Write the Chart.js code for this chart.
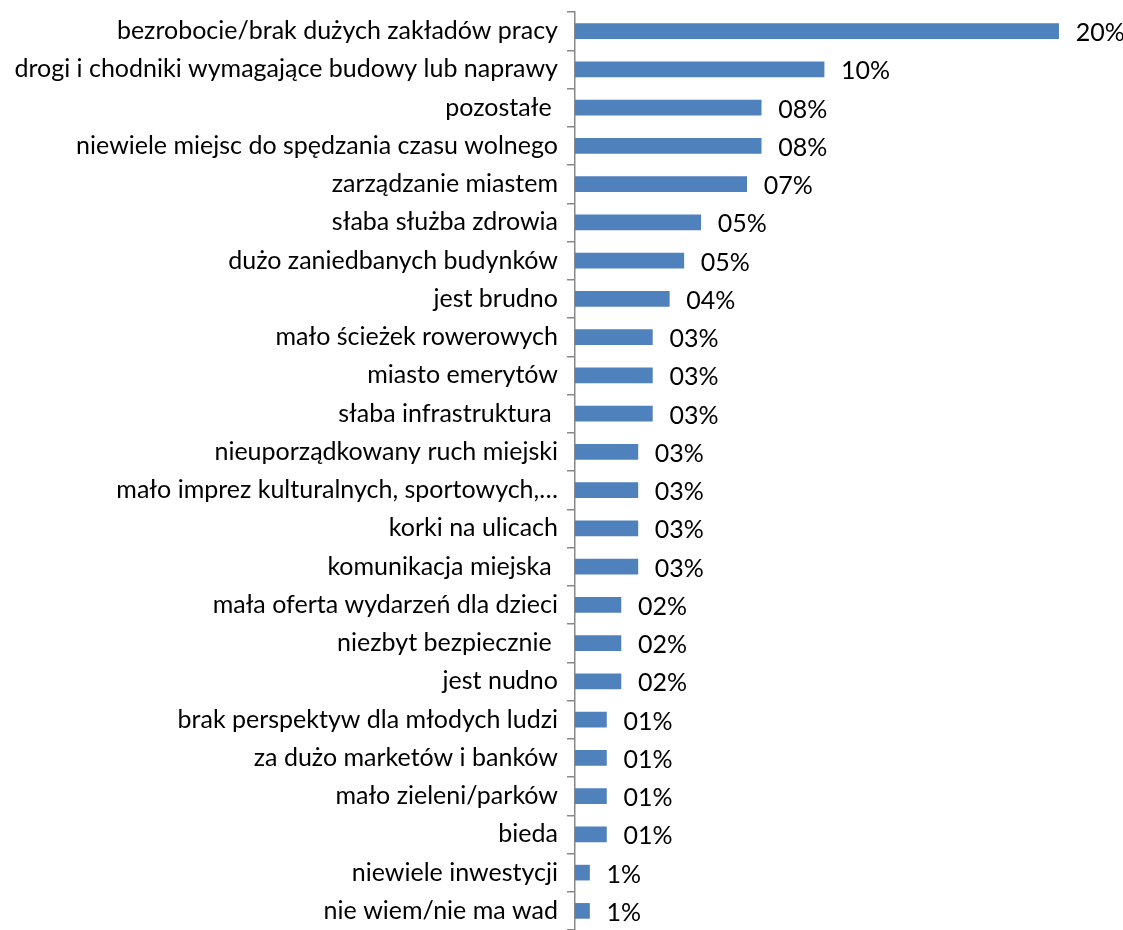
<!DOCTYPE html>
<html>
<head>
<meta charset="utf-8">
<script src="https://cdn.jsdelivr.net/npm/chart.js@4/dist/chart.umd.min.js"></script>
<style>
  html, body { margin: 0; padding: 0; background: #fff; }
  #wrap { width: 1123px; height: 930px; }
</style>
</head>
<body>
<div id="wrap"><canvas id="chart" width="1123" height="930"></canvas></div>
<script>
const categories = [
  'bezrobocie/brak dużych zakładów pracy',
  'drogi i chodniki wymagające budowy lub naprawy',
  'pozostałe ',
  'niewiele miejsc do spędzania czasu wolnego',
  'zarządzanie miastem',
  'słaba służba zdrowia',
  'dużo zaniedbanych budynków',
  'jest brudno',
  'mało ścieżek rowerowych',
  'miasto emerytów',
  'słaba infrastruktura ',
  'nieuporządkowany ruch miejski',
  'mało imprez kulturalnych, sportowych,…',
  'korki na ulicach',
  'komunikacja miejska ',
  'mała oferta wydarzeń dla dzieci',
  'niezbyt bezpiecznie ',
  'jest nudno',
  'brak perspektyw dla młodych ludzi',
  'za dużo marketów i banków',
  'mało zieleni/parków',
  'bieda',
  'niewiele inwestycji',
  'nie wiem/nie ma wad'
];
const values = [20.0, 10.3, 7.7, 7.7, 7.1, 5.2, 4.5, 3.9, 3.2, 3.2, 3.2, 2.6, 2.6, 2.6, 2.6, 1.9, 1.9, 1.9, 1.3, 1.3, 1.3, 1.3, 0.6, 0.6];
const valueLabels = ['20%', '10%', '08%', '08%', '07%', '05%', '05%', '04%', '03%', '03%', '03%', '03%', '03%', '03%', '03%', '02%', '02%', '02%', '01%', '01%', '01%', '01%', '1%', '1%'];

const FONT = 'Lato, "Open Sans", sans-serif';

// value labels to the right of each bar
const barLabels = {
  id: 'barLabels',
  afterDatasetsDraw(chart) {
    const ctx = chart.ctx;
    const meta = chart.getDatasetMeta(0);
    ctx.save();
    ctx.font = '25px ' + FONT;
    ctx.fillStyle = '#000';
    ctx.textAlign = 'left';
    ctx.textBaseline = 'middle';
    meta.data.forEach((bar, i) => {
      ctx.fillText(valueLabels[i], bar.x + 17, bar.y + 2);
    });
    ctx.restore();
  }
};

new Chart(document.getElementById('chart'), {
  type: 'bar',
  data: {
    labels: categories,
    datasets: [{
      data: values,
      backgroundColor: '#4F81BD',
      borderWidth: 0,
      barThickness: 15
    }]
  },
  options: {
    indexAxis: 'y',
    responsive: false,
    animation: false,
    layout: { padding: { top: 12, bottom: 0, right: 16, left: 0 } },
    plugins: {
      legend: { display: false },
      tooltip: { enabled: false }
    },
    scales: {
      x: {
        display: false,
        min: 0,
        max: 22
      },
      y: {
        afterFit(scale) {
          scale.width = 575;
          scale.paddingTop = 0;
          scale.paddingBottom = 0;
        },
        grid: {
          drawOnChartArea: false,
          drawTicks: true,
          tickLength: 8,
          color: '#888',
          lineWidth: 1.5
        },
        border: { display: true, color: '#888', width: 1.5 },
        ticks: {
          padding: 9,
          color: '#000',
          font: { family: FONT, size: 25 },
          autoSkip: false
        }
      }
    }
  },
  plugins: [barLabels]
});
</script>
</body>
</html>
